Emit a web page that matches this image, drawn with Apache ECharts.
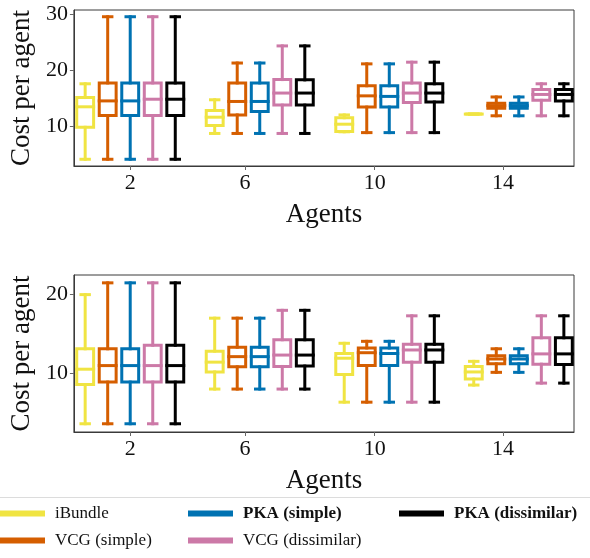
<!DOCTYPE html>
<html>
<head>
<meta charset="utf-8">
<script src="https://cdn.jsdelivr.net/npm/echarts@6/dist/echarts.min.js"></script>
<style>
  html, body { margin: 0; padding: 0; background: #fff; }
  #chart { width: 590px; height: 558px; }
</style>
</head>
<body>
<div id="chart"></div>
<script>
// ---- Data ----
const seriesNames = ['iBundle', 'VCG (simple)', 'PKA (simple)', 'VCG (dissimilar)', 'PKA (dissimilar)'];
const seriesColors = ['#F0E442', '#D55E00', '#0072B2', '#CC79A7', '#000000'];
const tickLabels = ['2', '6', '10', '14'];
// group centre positions and tick positions on the x axis (box spacing = 1 unit)
const groupCenters = [2.5, 8.25, 14.0, 19.75];
const tickPositions = [2.5, 7.6, 13.35, 19.05];
const boxOffsets = [-2, -1, 0, 1, 2];

// each entry: [min, Q1, median, Q3, max] for agents 2, 6, 10, 14
// Top panel
const topIBundle   = [[4.1, 9.8, 13.45, 15.1, 17.55], [8.7, 10.1, 11.6, 12.8, 14.7], [9.0, 9.05, 10.35, 11.5, 12.0], [12.15, 12.15, 12.15, 12.15, 12.15]];
const topVCGSimple = [[4.1, 11.9, 14.5, 17.7, 29.5], [8.7, 12.0, 14.4, 17.7, 21.25], [8.85, 13.4, 15.4, 17.2, 21.1], [11.85, 13.2, 13.65, 14.1, 15.2]];
const topPKASimple = [[4.1, 11.9, 14.5, 17.7, 29.5], [8.7, 12.6, 14.4, 17.7, 21.25], [8.85, 13.4, 15.3, 17.2, 21.1], [11.85, 13.2, 13.65, 14.1, 15.2]];
const topVCGDiss   = [[4.1, 11.9, 14.8, 17.7, 29.5], [8.7, 13.75, 15.9, 18.3, 24.3], [8.85, 14.2, 15.9, 17.7, 21.4], [11.85, 14.6, 15.65, 16.55, 17.55]];
const topPKADiss   = [[4.1, 11.9, 14.8, 17.7, 29.5], [8.7, 13.75, 15.9, 18.25, 24.3], [8.85, 14.3, 15.9, 17.55, 21.4], [11.85, 14.5, 15.65, 16.55, 17.55]];
// Bottom panel
const botIBundle   = [[3.55, 8.55, 10.5, 13.1, 20.0], [7.97, 10.15, 11.4, 12.8, 17.0], [6.3, 9.82, 11.9, 12.5, 13.8], [8.48, 9.24, 10.15, 10.85, 11.5]];
const botVCGSimple = [[3.55, 8.86, 10.96, 13.1, 21.5], [7.97, 10.8, 12.1, 13.3, 17.0], [6.3, 10.96, 12.6, 13.2, 14.05], [10.1, 11.18, 11.8, 12.2, 13.1]];
const botPKASimple = [[3.55, 8.86, 10.96, 13.1, 21.5], [7.97, 10.8, 12.1, 13.3, 17.0], [6.3, 10.96, 12.5, 13.2, 14.05], [10.1, 11.18, 11.8, 12.2, 13.1]];
const botVCGDiss   = [[3.55, 8.86, 10.96, 13.55, 21.5], [7.97, 10.85, 12.3, 14.25, 18.0], [6.3, 11.4, 12.95, 13.67, 17.3], [8.73, 11.14, 12.45, 14.5, 17.3]];
const botPKADiss   = [[3.55, 8.86, 10.96, 13.55, 21.5], [7.97, 10.9, 12.3, 14.25, 18.0], [6.3, 11.4, 12.95, 13.67, 17.3], [8.73, 11.1, 12.45, 14.5, 17.3]];

const topData = [topIBundle, topVCGSimple, topPKASimple, topVCGDiss, topPKADiss];
const botData = [botIBundle, botVCGSimple, botPKASimple, botVCGDiss, botPKADiss];

const topYTicks = [10, 20, 30];
const botYTicks = [10, 20];

// ---- Chart ----
const FONT = 'Liberation Serif';
const BOX_W = 0.75;   // box width in x units
const LW = 3;

function renderBox(params, api) {
  const x = api.value(0);
  const mn = api.value(1), q1 = api.value(2), md = api.value(3), q3 = api.value(4), mx = api.value(5);
  const half = api.size([BOX_W, 0])[0] / 2;
  const capHalf = half / 2;
  const cx = api.coord([x, md])[0];
  const yMin = api.coord([x, mn])[1];
  const yQ1 = api.coord([x, q1])[1];
  const yMd = api.coord([x, md])[1];
  const yQ3 = api.coord([x, q3])[1];
  const yMax = api.coord([x, mx])[1];
  const color = api.visual('color');
  const st = { stroke: color, lineWidth: LW, fill: null, lineCap: 'square', lineJoin: 'miter' };
  const children = [];
  const addLine = (x1, y1, x2, y2) => children.push({ type: 'line', shape: { x1, y1, x2, y2 }, style: st });
  if (Math.abs(yMin - yQ1) > 0.01) addLine(cx, yQ1, cx, yMin);
  if (Math.abs(yMax - yQ3) > 0.01) addLine(cx, yQ3, cx, yMax);
  addLine(cx - capHalf, yMin, cx + capHalf, yMin);
  addLine(cx - capHalf, yMax, cx + capHalf, yMax);
  children.push({ type: 'rect', shape: { x: cx - half, y: yQ3, width: 2 * half, height: yQ1 - yQ3 }, style: { stroke: color, lineWidth: LW, fill: 'rgba(0,0,0,0)', lineJoin: 'miter' } });
  addLine(cx - half, yMd, cx + half, yMd);
  return { type: 'group', children };
}

function makeSeries(panelData, axisIndex) {
  return panelData.map((groups, si) => ({
    type: 'custom',
    name: seriesNames[si],
    xAxisIndex: axisIndex,
    yAxisIndex: axisIndex,
    itemStyle: { color: seriesColors[si] },
    renderItem: renderBox,
    encode: { x: 0, y: [1, 2, 3, 4, 5] },
    data: groups.map((s, gi) => [groupCenters[gi] + boxOffsets[si], s[0], s[1], s[2], s[3], s[4]]),
    z: 10 + si
  }));
}

function xAxis(gridIndex) {
  return {
    type: 'value', gridIndex, min: 0, max: 22.2,
    name: 'Agents', nameLocation: 'middle', nameGap: 35,
    nameTextStyle: { fontFamily: FONT, fontSize: 27, color: '#111' },
    axisLine: { show: true, lineStyle: { color: '#3a3a3a', width: 1 } },
    axisTick: { show: true, length: 4, customValues: tickPositions, lineStyle: { color: '#666' } },
    axisLabel: {
      customValues: tickPositions, margin: 6,
      fontFamily: FONT, fontSize: 22, color: '#111',
      formatter: (v) => { const i = tickPositions.findIndex(t => Math.abs(t - v) < 1e-6); return i >= 0 ? tickLabels[i] : ''; }
    },
    splitLine: { show: false }
  };
}

function yAxis(gridIndex, mn, mx, ticks) {
  return {
    type: 'value', gridIndex, min: mn, max: mx,
    name: 'Cost per agent', nameLocation: 'middle', nameGap: 37, nameRotate: 90,
    nameTextStyle: { fontFamily: FONT, fontSize: 27, color: '#111' },
    axisLine: { show: true, lineStyle: { color: '#3a3a3a', width: 1 } },
    axisTick: { show: true, length: 4, customValues: ticks, lineStyle: { color: '#666' } },
    axisLabel: { customValues: ticks, margin: 6, fontFamily: FONT, fontSize: 22, color: '#111' },
    splitLine: { show: false }
  };
}

function legendCol(left, items) {
  return {
    orient: 'vertical', left, top: 505, padding: 0,
    itemWidth: 45, itemHeight: 6, itemGap: 10, icon: 'rect',
    textStyle: { fontFamily: FONT, fontSize: 17, color: '#111', lineHeight: 17, padding: [0, 0, 0, 5] },
    data: items
  };
}

const chart = echarts.init(document.getElementById('chart'), null, { renderer: 'canvas' });
chart.setOption({
  animation: false,
  backgroundColor: '#fff',
  grid: [
    { left: 72, right: 16, top: 10, height: 156, show: true, borderColor: '#3a3a3a', borderWidth: 1, backgroundColor: 'transparent' },
    { left: 72, right: 16, top: 275, height: 157, show: true, borderColor: '#3a3a3a', borderWidth: 1, backgroundColor: 'transparent' }
  ],
  xAxis: [xAxis(0), xAxis(1)],
  yAxis: [yAxis(0, 2.9, 30.7, topYTicks), yAxis(1, 2.5, 22.5, botYTicks)],
  legend: [
    legendCol(0, [{ name: seriesNames[0] }, { name: seriesNames[1] }]),
    legendCol(188, [{ name: seriesNames[2], textStyle: { fontWeight: 'bold' } }, { name: seriesNames[3] }]),
    legendCol(399, [{ name: seriesNames[4], textStyle: { fontWeight: 'bold' } }])
  ],
  graphic: [
    { type: 'line', shape: { x1: 0, y1: 497.5, x2: 590, y2: 497.5 }, style: { stroke: '#dcdcdc', lineWidth: 1 }, silent: true }
  ],
  series: [...makeSeries(topData, 0), ...makeSeries(botData, 1)]
});
</script>
</body>
</html>
